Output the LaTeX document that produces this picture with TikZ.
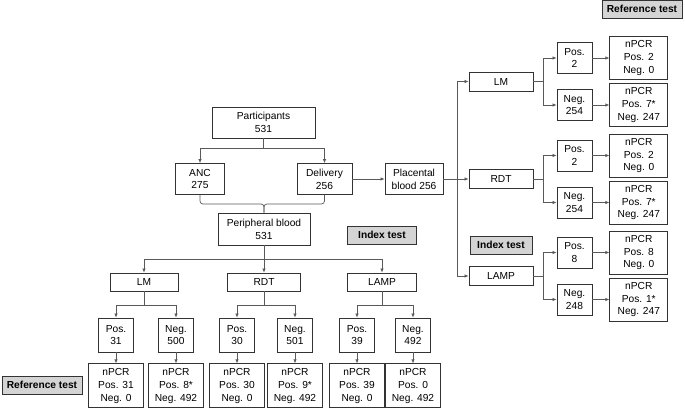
\documentclass[tikz,border=0pt]{standalone}
\usepackage{fontspec}
\setmainfont{Liberation Sans}
\usetikzlibrary{arrows.meta,positioning}

\begin{document}
\begin{tikzpicture}[
  x=1pt, y=1pt,
  box/.style={draw=black!80,line width=0.8pt,align=center,inner sep=1pt,font=\fontsize{10.2}{12.8}\selectfont},
  start/.style={box,minimum height=31pt},
  test/.style={box,minimum width=68pt,minimum height=18pt},
  res/.style={box,minimum width=35pt,minimum height=34pt},
  rres/.style={box,minimum width=35pt,minimum height=31pt},
  pcr/.style={box,minimum width=55pt,minimum height=44pt},
  rpcr/.style={box,minimum width=58pt,minimum height=43pt},
  tag/.style={box,fill=black!17,font=\fontsize{10.2}{12}\selectfont\bfseries,minimum height=18pt},
  arr/.style={-{Latex[length=4pt,width=3.5pt]},line width=0.7pt,draw=black!65},
  link/.style={line width=0.7pt,draw=black!65}
]
\useasboundingbox (0,0) rectangle (685,-408);

% recruitment
\node[start,minimum width=103pt] (part) at (263.5,-122.5) {Participants\\531};
\node[start,minimum width=49pt] (anc) at (200,-179) {ANC\\275};
\node[start,minimum width=55pt] (deliv) at (324.5,-179) {Delivery\\256};
\node[start,minimum width=92pt,minimum height=32pt] (periph) at (264,-229) {Peripheral blood\\531};
\node[start,minimum width=58pt] (plac) at (414,-179) {Placental\\blood 256};
\coordinate[below=10pt of part] (split);
\coordinate (merge) at (264,-204);
\draw[link] (part) -- (split);
\draw[arr] (split) -| (anc);
\draw[arr] (split) -| (deliv);
\draw[link,rounded corners=3pt] (anc) |- (merge) -- (periph);
\draw[link,rounded corners=3pt] (deliv) |- (merge) -- (periph);
\draw[arr] (deliv) -- (plac);

% labels
\node[tag,minimum width=69pt] (idxA) at (382,-235) {Index test};
\node[tag,minimum width=62pt] (idxP) at (501,-245) {Index test};
\node[tag,minimum width=80pt] (refP) at (642,-9) {Reference test};
\node[tag,minimum width=80pt] (refA) at (42,-385) {Reference test};

% placental blood: index tests
\node[test,minimum width=64pt,minimum height=19pt] (lmP) at (501,-81.5) {LM};
\node[test,minimum width=64pt,minimum height=19pt] (rdtP) at (501,-179) {RDT};
\node[test,minimum width=64pt,minimum height=19pt] (lampP) at (501,-276) {LAMP};
\coordinate (fork) at (457,-179);
\draw[arr] (plac) -- (rdtP);
\draw[arr] (fork) |- (lmP);
\draw[arr] (fork) |- (lampP);

% placental blood: results and nPCR
\node[rres] (lmPpos) at (574.5,-58) {Pos.\\2};
\node[rres] (lmPneg) at (574.5,-105) {Neg.\\254};
\node[rres] (rdtPpos) at (574.5,-155.5) {Pos.\\2};
\node[rres] (rdtPneg) at (574.5,-202.5) {Neg.\\254};
\node[rres] (lampPpos) at (574.5,-252.5) {Pos.\\8};
\node[rres] (lampPneg) at (574.5,-299.5) {Neg.\\248};
\node[rpcr,right=17pt of lmPpos] (lmPposR) {nPCR\\Pos. 2\\Neg. 0};
\node[rpcr,right=17pt of lmPneg] (lmPnegR) {nPCR\\Pos. 7*\\Neg. 247};
\node[rpcr,right=17pt of rdtPpos] (rdtPposR) {nPCR\\Pos. 2\\Neg. 0};
\node[rpcr,right=17pt of rdtPneg] (rdtPnegR) {nPCR\\Pos. 7*\\Neg. 247};
\node[rpcr,right=17pt of lampPpos] (lampPposR) {nPCR\\Pos. 8\\Neg. 0};
\node[rpcr,right=17pt of lampPneg] (lampPnegR) {nPCR\\Pos. 1*\\Neg. 247};
\coordinate[right=10pt of lmP] (lmPfork);
\coordinate[right=10pt of rdtP] (rdtPfork);
\coordinate[right=10pt of lampP] (lampPfork);
\draw[link] (lmP) -- (lmPfork);
\draw[arr] (lmPfork) |- (lmPpos);
\draw[arr] (lmPfork) |- (lmPneg);
\draw[link] (rdtP) -- (rdtPfork);
\draw[arr] (rdtPfork) |- (rdtPpos);
\draw[arr] (rdtPfork) |- (rdtPneg);
\draw[link] (lampP) -- (lampPfork);
\draw[arr] (lampPfork) |- (lampPpos);
\draw[arr] (lampPfork) |- (lampPneg);
\draw[arr] (lmPpos) -- (lmPposR);
\draw[arr] (lmPneg) -- (lmPnegR);
\draw[arr] (rdtPpos) -- (rdtPposR);
\draw[arr] (rdtPneg) -- (rdtPnegR);
\draw[arr] (lampPpos) -- (lampPposR);
\draw[arr] (lampPneg) -- (lampPnegR);

% peripheral blood: index tests
\node[test] (lmA) at (144,-282) {LM};
\node[test,minimum width=73pt] (rdtA) at (264,-282) {RDT};
\node[test,minimum width=69pt] (lampA) at (382,-282) {LAMP};
\coordinate[below=14pt of periph] (spread);
\draw[link] (periph) -- (spread);
\draw[arr] (spread) -| (lmA);
\draw[arr] (spread) -- (rdtA);
\draw[arr] (spread) -| (lampA);

% peripheral blood: results and nPCR
\node[res] (lmApos) at (116,-335) {Pos.\\31};
\node[res] (lmAneg) at (176,-335) {Neg.\\500};
\node[res] (rdtApos) at (237,-335) {Pos.\\30};
\node[res] (rdtAneg) at (295,-335) {Neg.\\501};
\node[res] (lampApos) at (357,-335) {Pos.\\39};
\node[res] (lampAneg) at (413,-335) {Neg.\\492};
\node[pcr,below=11pt of lmApos] (lmAposR) {nPCR\\Pos. 31\\Neg. 0};
\node[pcr,below=11pt of lmAneg] (lmAnegR) {nPCR\\Pos. 8*\\Neg. 492};
\node[pcr,below=11pt of rdtApos] (rdtAposR) {nPCR\\Pos. 30\\Neg. 0};
\node[pcr,below=11pt of rdtAneg] (rdtAnegR) {nPCR\\Pos. 9*\\Neg. 492};
\node[pcr,below=11pt of lampApos] (lampAposR) {nPCR\\Pos. 39\\Neg. 0};
\node[pcr,below=11pt of lampAneg] (lampAnegR) {nPCR\\Pos. 0\\Neg. 492};
\coordinate[below=14pt of lmA] (lmAfork);
\coordinate[below=14pt of rdtA] (rdtAfork);
\coordinate[below=14pt of lampA] (lampAfork);
\draw[link] (lmA) -- (lmAfork);
\draw[arr] (lmAfork) -| (lmApos);
\draw[arr] (lmAfork) -| (lmAneg);
\draw[link] (rdtA) -- (rdtAfork);
\draw[arr] (rdtAfork) -| (rdtApos);
\draw[arr] (rdtAfork) -| (rdtAneg);
\draw[link] (lampA) -- (lampAfork);
\draw[arr] (lampAfork) -| (lampApos);
\draw[arr] (lampAfork) -| (lampAneg);
\draw[arr] (lmApos) -- (lmAposR);
\draw[arr] (lmAneg) -- (lmAnegR);
\draw[arr] (rdtApos) -- (rdtAposR);
\draw[arr] (rdtAneg) -- (rdtAnegR);
\draw[arr] (lampApos) -- (lampAposR);
\draw[arr] (lampAneg) -- (lampAnegR);
\end{tikzpicture}
\end{document}
